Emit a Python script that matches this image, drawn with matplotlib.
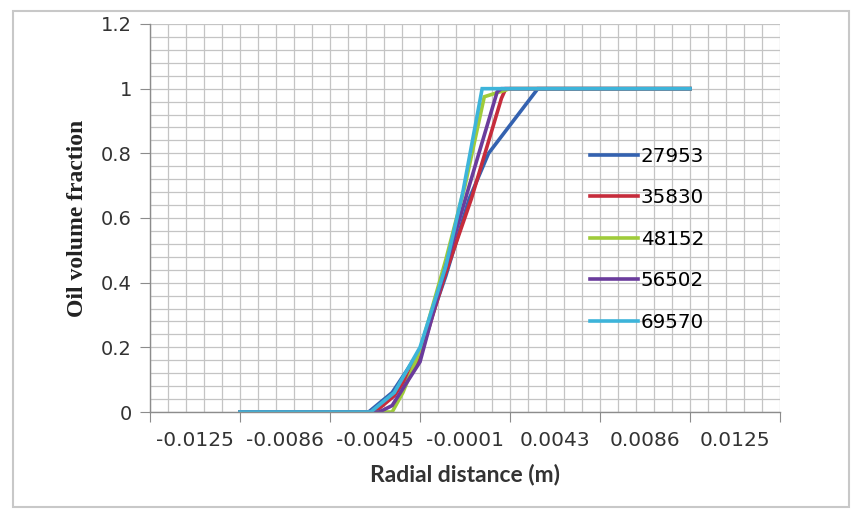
import numpy as np
import matplotlib
matplotlib.use("Agg")
from matplotlib import pyplot as plt
from matplotlib.ticker import MultipleLocator
from matplotlib.patches import Rectangle

# radial positions (m) and oil volume fraction for each Reynolds number
x_27953 = [-0.0105, -0.0045, -0.0034, -0.0021, -0.0009, 0.0002, 0.0011, 0.0034, 0.0105]
y_27953 = [0, 0, 0.06, 0.19, 0.42, 0.66, 0.80, 1.0, 1.0]

x_35830 = [-0.0105, -0.0042, -0.0033, -0.0021, -0.0009, 0.0003, 0.0017, 0.0019, 0.0105]
y_35830 = [0, 0, 0.05, 0.17, 0.43, 0.66, 0.97, 1.0, 1.0]

x_48152 = [-0.0105, -0.0034, -0.0029, -0.0021, -0.0009, 0.0, 0.0009, 0.0021, 0.0105]
y_48152 = [0, 0, 0.06, 0.19, 0.47, 0.70, 0.975, 1.0, 1.0]

x_56502 = [-0.0105, -0.0040, -0.0034, -0.0021, -0.0009, 0.0002, 0.0015, 0.0017, 0.0105]
y_56502 = [0, 0, 0.02, 0.155, 0.45, 0.70, 0.99, 1.0, 1.0]

x_69570 = [-0.0105, -0.0044, -0.0033, -0.0021, -0.0009, -0.0001, 0.0008, 0.0105]
y_69570 = [0, 0, 0.06, 0.20, 0.45, 0.68, 1.0, 1.0]

series_names = ["27953", "35830", "48152", "56502", "69570"]
series_x = [x_27953, x_35830, x_48152, x_56502, x_69570]
series_y = [y_27953, y_35830, y_48152, y_56502, y_69570]
colors = ["#3462b0", "#c62c3c", "#9fcb3a", "#6a3c9c", "#3db4da"]

xtick_labels = ["-0.0125", "-0.0086", "-0.0045", "-0.0001", "0.0043", "0.0086", "0.0125"]
step = 0.0042  # width of one labelled interval on the x axis

fig = plt.figure(figsize=(8.64, 5.21), dpi=100)
fig.patches.append(Rectangle((13 / 864, 1 - 507 / 521), 836 / 864, 496 / 521,
                             transform=fig.transFigure, fill=False,
                             edgecolor="#c8c8c8", linewidth=1.5))
ax = fig.add_axes([150 / 864, 1 - 412 / 521, 630 / 864, 388 / 521])

for xs, ys, name, color in zip(series_x, series_y, series_names, colors):
    ax.plot(xs, ys, color=color, linewidth=2.6, label=name, solid_joinstyle="miter")

ax.set_xlim(-3.5 * step, 3.5 * step)
ax.set_ylim(0, 1.2)

ax.xaxis.set_major_locator(MultipleLocator(step, offset=step / 2))
ax.xaxis.set_minor_locator(MultipleLocator(step / 5, offset=step / 10))
ax.yaxis.set_major_locator(MultipleLocator(0.2))
ax.yaxis.set_minor_locator(MultipleLocator(0.04))
ax.set_xticklabels([])
ax.set_yticks(np.arange(0, 1.21, 0.2), ["0", "0.2", "0.4", "0.6", "0.8", "1", "1.2"])

ax.grid(True, which="both", color="#c4c4c4", linewidth=0.9)
ax.set_axisbelow(True)
ax.tick_params(axis="both", which="major", direction="out", length=7, color="#8c8c8c",
               labelsize=14, labelcolor="#333333", pad=6)
ax.tick_params(axis="both", which="minor", length=0)
for side in ["top", "right"]:
    ax.spines[side].set_visible(False)
for side in ["left", "bottom"]:
    ax.spines[side].set_color("#8c8c8c")
    ax.spines[side].set_linewidth(1.0)

centers = np.arange(-3, 4) * step
for c, lab in zip(centers, xtick_labels):
    ax.text(c, -0.05, lab, transform=ax.get_xaxis_transform(), ha="center", va="top",
            fontsize=14.5, family="DejaVu Sans", color="#333333")

ax.set_xlabel("Radial distance (m)", fontsize=16.5, fontweight="bold", family="Lato",
              color="#333333", labelpad=24)
ax.set_ylabel("Oil volume fraction", fontsize=17, fontweight="bold",
              family="Liberation Serif", color="#222222", labelpad=9)

ax.legend(loc="upper left", bbox_to_anchor=(590 / 864, 1 - 147 / 521),
          bbox_transform=fig.transFigure, frameon=False,
          handlelength=2.4, handletextpad=0.15, labelspacing=1.13,
          borderaxespad=0, borderpad=0, prop={"family": "DejaVu Sans", "size": 14.3})

fig.savefig("out.png", dpi=100, facecolor="white")
